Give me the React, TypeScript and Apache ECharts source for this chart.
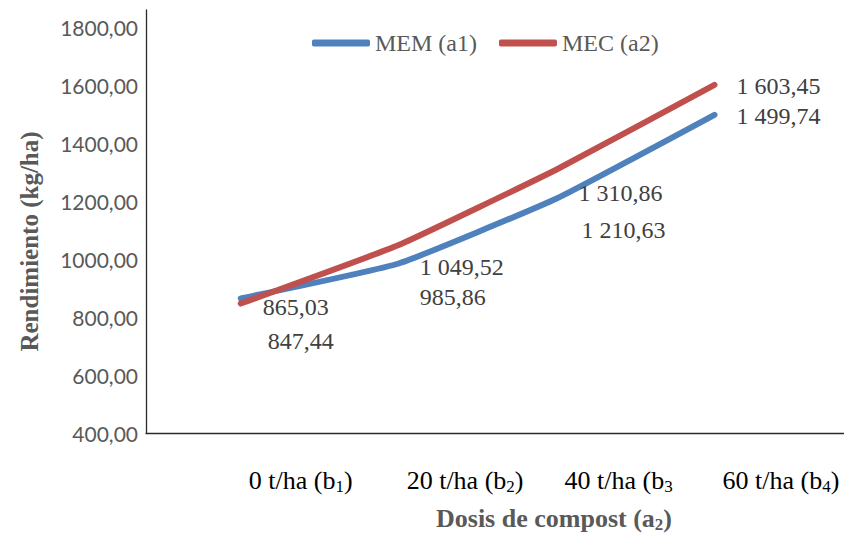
import React, { useEffect, useRef } from "react";
import * as echarts from "echarts";

const categories = ["0 t/ha (b1)", "20 t/ha (b2)", "40 t/ha (b3", "60 t/ha (b4)"];
const memValues = [865.03, 985.86, 1210.63, 1499.74];
const mecValues = [847.44, 1049.52, 1310.86, 1603.45];
const seriesNames = ["MEM (a1)", "MEC (a2)"];
const yAxisTitle = "Rendimiento (kg/ha)";
const xAxisTitle = "Dosis de compost (a2)";

// label nudges (layout only), in px relative to each point
const memLabelOffsets = [[55, 9], [54, 34], [67, 32], [64, 1]];
const mecLabelOffsets = [[60, 37], [63, 22], [64, 24], [64, 1]];

const SERIF = "'Liberation Serif', 'Times New Roman', serif";

function fmtEs(v: number): string {
  const [i, d] = v.toFixed(2).split(".");
  return i.replace(/\B(?=(\d{3})+(?!\d))/g, " ") + "," + d;
}

function subRich(s: string): string {
  const m = s.match(/^(.*\()([ab])(\d)(.*)$/);
  if (!m) return `{n|${s}}`;
  return `{n|${m[1]}${m[2]}}{s|${m[3]}}` + (m[4] ? `{n|${m[4]}}` : "");
}

export default function App() {
  const ref = useRef<HTMLDivElement>(null);
  useEffect(() => {
    if (!ref.current) return;
    const chart = echarts.init(ref.current, undefined, { renderer: "svg" });
    const labelStyle = {
      fontFamily: SERIF,
      fontSize: 24,
      color: "#404040",
    };
    const mk = (vals: number[], offs: number[][]) =>
      vals.map((v, i) => ({
        value: [i, v],
        label: { offset: offs[i] },
      }));
    chart.setOption({
      animation: false,
      backgroundColor: "#ffffff",
      grid: {
        left: 146,
        right: 0,
        top: 10,
        bottom: 101,
        outerBoundsMode: "none",
      },
      legend: {
        data: seriesNames,
        left: 307,
        top: 26,
        icon: "roundRect",
        itemWidth: 58,
        itemHeight: 7,
        itemGap: 22,
        textStyle: { fontFamily: SERIF, fontSize: 24, color: "#595959" },
      },
      xAxis: {
        type: "value",
        min: -0.6,
        max: 3.82,
        axisLine: { show: true, onZero: false, lineStyle: { color: "#2b2b2b", width: 1.3 } },
        axisTick: { show: false },
        splitLine: { show: false },
        axisLabel: {
          customValues: [0, 1, 2, 3],
          align: "left",
          padding: [0, 0, 0, 8],
          margin: 32,
          formatter: (v: number) => subRich(categories[Math.round(v)] ?? ""),
          rich: {
            n: { fontFamily: SERIF, fontSize: 26, color: "#000000", lineHeight: 30 },
            s: {
              fontFamily: SERIF,
              fontSize: 17,
              color: "#000000",
              lineHeight: 18,
              verticalAlign: "bottom",
            },
          },
        },
        name: subRich(xAxisTitle),
        nameLocation: "middle",
        nameGap: 70,
        nameTextStyle: {
          padding: [0, 0, 0, 118],
          rich: {
            n: {
              fontFamily: SERIF,
              fontSize: 26,
              fontWeight: "bold",
              color: "#595959",
              lineHeight: 30,
            },
            s: {
              fontFamily: SERIF,
              fontSize: 17,
              fontWeight: "bold",
              color: "#595959",
              lineHeight: 18,
              verticalAlign: "bottom",
            },
          },
        },
      },
      yAxis: {
        type: "value",
        min: 400,
        max: 1862,
        interval: 200,
        axisLine: { show: true, onZero: false, lineStyle: { color: "#2b2b2b", width: 1.3 } },
        axisTick: { show: false },
        splitLine: { show: false },
        axisLabel: {
          margin: 8,
          fontFamily: "Lato, 'Open Sans', sans-serif",
          fontSize: 21,
          color: "#595959",
          formatter: (v: number) => v.toFixed(2).replace(".", ","),
        },
        name: yAxisTitle,
        nameLocation: "middle",
        nameRotate: 90,
        nameGap: 104,
        nameTextStyle: {
          fontFamily: SERIF,
          fontSize: 25,
          fontWeight: "bold",
          color: "#595959",
          padding: [0, 40, 0, 0],
        },
      },
      series: [
        {
          name: seriesNames[0],
          type: "line",
          smooth: 0.12,
          symbol: "circle",
          symbolSize: 1,
          data: mk(memValues, memLabelOffsets),
          itemStyle: { color: "#4F81BD" },
          lineStyle: { color: "#4F81BD", width: 6, cap: "round", join: "round" },
          label: {
            show: true,
            position: "inside",
            ...labelStyle,
            formatter: (p: any) => fmtEs(p.value[1]),
          },
        },
        {
          name: seriesNames[1],
          type: "line",
          smooth: 0.12,
          symbol: "circle",
          symbolSize: 1,
          data: mk(mecValues, mecLabelOffsets),
          itemStyle: { color: "#C0504D" },
          lineStyle: { color: "#C0504D", width: 6, cap: "round", join: "round" },
          label: {
            show: true,
            position: "inside",
            ...labelStyle,
            formatter: (p: any) => fmtEs(p.value[1]),
          },
        },
      ],
    });
    return () => chart.dispose();
  }, []);
  return (
    <div
      ref={ref}
      style={{ position: "fixed", left: 0, top: 0, width: 844, height: 534 }}
    />
  );
}
